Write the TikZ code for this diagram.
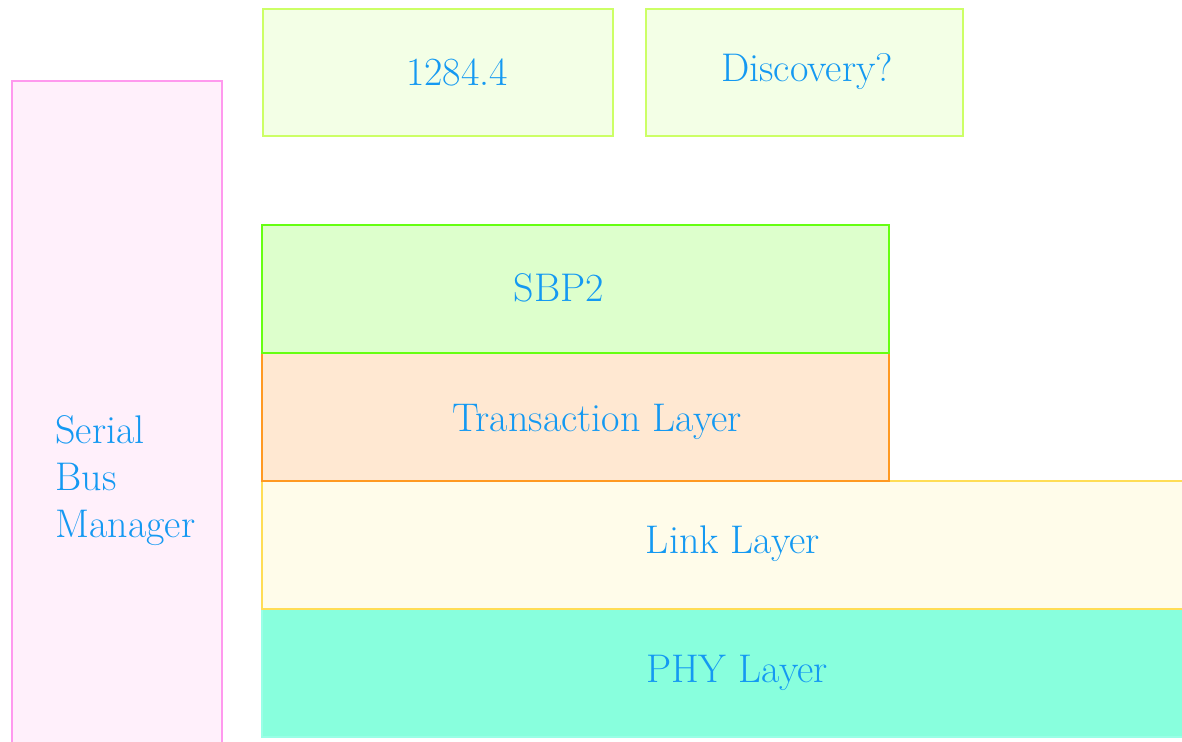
\documentclass[tikz,border=0pt]{standalone}
\usepackage{fontspec}
\definecolor{txt}{HTML}{1499F2}
\definecolor{pinkD}{HTML}{FF99EE}
\definecolor{pinkF}{HTML}{FFF0FB}
\definecolor{lgD}{HTML}{CCFF66}
\definecolor{lgF}{HTML}{F3FFE6}
\definecolor{gD}{HTML}{66FF11}
\definecolor{gF}{HTML}{DDFFCC}
\definecolor{oD}{HTML}{FF9922}
\definecolor{oF}{HTML}{FFE8D2}
\definecolor{yD}{HTML}{FFDD55}
\definecolor{yF}{HTML}{FFFCEA}
\definecolor{aD}{HTML}{99FFE6}
\definecolor{aF}{HTML}{88FFDD}
\tikzset{
  layerbox/.style={line width=1pt},
  lbl/.style={text=txt, font=\fontsize{20}{23.5}\selectfont, inner sep=0pt},
}
\begin{document}
\begin{tikzpicture}[x=0.5pt,y=-0.5pt]
\useasboundingbox (0,0) rectangle (1182,741);
\clip (0,0) rectangle (1182,741);
% boxes
\path[layerbox, draw=pinkD, fill=pinkF] (12,81) rectangle (222,760);
\path[layerbox, draw=lgD, fill=lgF] (263,9) rectangle (613,136);
\path[layerbox, draw=lgD, fill=lgF] (646,9) rectangle (963,136);
\path[layerbox, draw=aD, fill=aF] (262,609) rectangle (1200,737);
\path[layerbox, draw=yD, fill=yF] (262,481) rectangle (1200,609);
\path[layerbox, draw=oD, fill=oF] (262,353) rectangle (889,481);
\path[layerbox, draw=gD, fill=gF] (262,225) rectangle (889,353);
% labels
\node[lbl] (t1284) at (457,72) {1284.4};
\node[lbl] (tdisc) at (807,72) {Discovery?};
\node[lbl] (tsbp) at (559,288) {SBP2};
\node[lbl] (ttrans) at (597,422) {Transaction Layer};
\node[lbl] (tlink) at (733,544) {Link Layer};
\node[lbl] (tphy) at (737,673) {PHY Layer};
\node[lbl, anchor=base west, align=left] (tsbm) at (55,537) {Serial\\Bus\\Manager};
\end{tikzpicture}
\end{document}
